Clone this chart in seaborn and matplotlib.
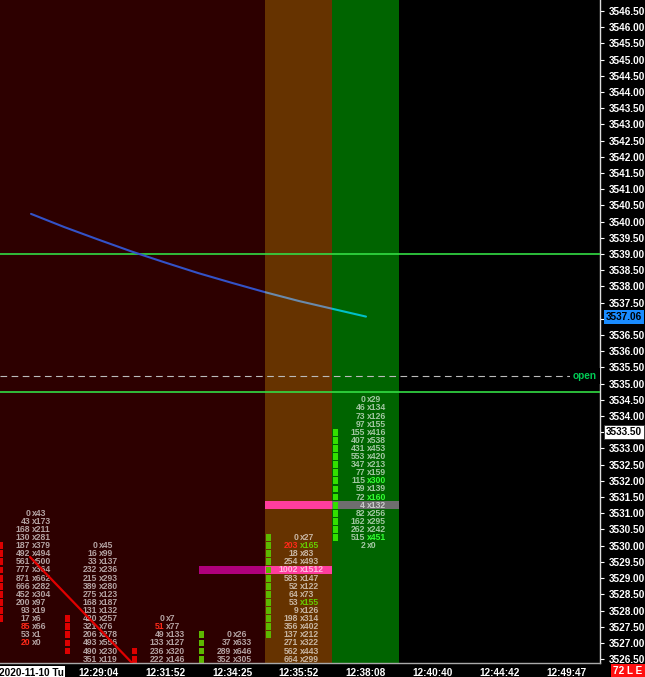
import matplotlib
matplotlib.use("Agg")
import matplotlib.pyplot as plt
import matplotlib.transforms as mtransforms
import numpy as np
import pandas as pd
import seaborn as sns

# time labels of the footprint bars (one per column)
bar_times = ["2020-11-10 Tu", "12:29:04", "12:31:52", "12:34:25", "12:35:52",
             "12:38:08", "12:40:40", "12:44:42", "12:49:47"]

# footprint cells: top price of each column, then bid / ask per 0.25 row downwards
col_top = [3531.00, 3530.00, 3527.75, 3527.25, 3530.25, 3534.50]
col_bid = [
    [0, 43, 168, 130, 187, 492, 561, 777, 871, 666, 452, 200, 93, 17, 85, 53, 20],
    [0, 16, 33, 232, 215, 389, 275, 168, 131, 420, 321, 206, 493, 490, 351],
    [0, 51, 49, 133, 236, 222],
    [0, 37, 289, 352],
    [0, 203, 18, 254, 1002, 583, 52, 64, 53, 9, 198, 356, 137, 271, 562, 664],
    [0, 46, 73, 97, 155, 407, 431, 553, 347, 77, 115, 59, 72, 4, 82, 162, 262, 515, 2],
]
col_ask = [
    [43, 173, 211, 281, 379, 494, 500, 364, 662, 282, 304, 97, 19, 6, 66, 1, 0],
    [45, 99, 137, 236, 293, 280, 123, 187, 132, 257, 76, 278, 556, 230, 119],
    [7, 77, 133, 127, 320, 146],
    [26, 633, 646, 305],
    [27, 165, 83, 493, 1512, 147, 122, 73, 155, 126, 314, 402, 212, 322, 443, 299],
    [29, 134, 126, 155, 416, 538, 453, 420, 213, 159, 300, 139, 160, 132, 256, 295, 242, 451, 0],
]
# highlighted numbers (column, price)
red_bids = [(0, 3527.50), (0, 3527.00), (2, 3527.50), (4, 3530.00)]
green_asks = [(4, 3530.00), (4, 3528.25), (5, 3532.00), (5, 3531.50), (5, 3530.25)]

# candle blocks: column, high row, low row, colour
block_col = [0, 1, 2, 3, 4, 5]
block_hi = [3530.00, 3527.75, 3526.75, 3527.25, 3530.25, 3533.50]
block_lo = [3527.75, 3526.75, 3526.50, 3526.50, 3527.25, 3530.25]
block_color = ["#dd0000", "#dd0000", "#dd0000", "#5cb800", "#5cb800", "#33e000"]

# highlighted rows (point of control etc.)
hl_col = [3, 4, 4, 5]
hl_price = [3529.25, 3529.25, 3531.25, 3531.25]
hl_color = ["#b0007c", "#ff3d9e", "#ff3d9e", "#6e6e6e"]

# session vwap-like curve (read at whole and half columns)
vwap_col = [0, 0.5, 1, 1.5, 2, 2.5, 3, 3.5, 4, 4.5, 5]
vwap_val = [3540.24, 3539.83, 3539.45, 3539.08, 3538.74, 3538.41,
            3538.11, 3537.82, 3537.55, 3537.31, 3537.07]

# red trend line
trend_x = [-0.015, 1.5]
trend_p = [3529.65, 3526.40]

# horizontal levels
green_levels = [3539.00, 3534.75]
open_level = 3535.25

bg_edges = [-0.5, 3.5, 4.5, 5.5]
bg_colors = ["#2d0000", "#663300", "#006400"]

sns.set_theme(style="dark")
plt.rcParams["font.family"] = ["Liberation Sans", "DejaVu Sans"]
plt.rcParams["font.weight"] = "bold"

fig = plt.figure(figsize=(6.45, 6.77), dpi=100, facecolor="black")
ax = fig.add_axes([0, 14 / 677, 600 / 645, 663 / 677])
ax.set_facecolor("black")
ax.grid(False)

spans = []
for x0, x1, c in zip(bg_edges[:-1], bg_edges[1:], bg_colors):
    spans.append(ax.axvspan(x0, x1, color=c, lw=0, zorder=0))

# highlight bars
ax.bar(hl_col, 0.245, bottom=np.array(hl_price) - 0.1225, width=1.0,
       color=hl_color, lw=0, zorder=1)

# candle blocks
for c, hi, lo, colr in zip(block_col, block_hi, block_lo, block_color):
    rows = np.arange(lo, hi + 0.01, 0.25)
    ax.bar(np.full(len(rows), c - 0.5 + 0.038), 0.21, bottom=rows - 0.105, width=0.075,
           color=colr, lw=0, zorder=2)

# footprint numbers
cells = []
for c, top in enumerate(col_top):
    for i, (b, a) in enumerate(zip(col_bid[c], col_ask[c])):
        cells.append({"col": c, "price": top - 0.25 * i, "bid": b, "ask": a})
df = pd.DataFrame(cells)
for r in df.itertuples():
    key = (r.col, round(r.price, 2))
    bcol = "#ff2a1a" if key in red_bids else "white"
    balpha = 1.0 if key in red_bids else 0.64
    if key in green_asks:
        acol, aalpha = ("#33ff33" if r.col == 5 else "#66cc00"), 1.0
    else:
        acol, aalpha = "white", 0.64
    ax.text(r.col - 0.012, r.price, str(r.bid), ha="right", va="center",
            fontsize=6.2, color=bcol, alpha=balpha, zorder=3, clip_on=True)
    ax.text(r.col + 0.012, r.price, f"x{r.ask}", ha="left", va="center",
            fontsize=6.2, color=acol, alpha=aalpha, zorder=3, clip_on=True)

# level lines
for lv in green_levels:
    ax.axhline(lv, color="#33dd44", lw=1.4, alpha=0.85, zorder=4)
ax.axhline(open_level, color="#bbbbbb", lw=0.8, ls=(0, (6, 4)), zorder=4)

# vwap curve, coloured by background zone
vw = pd.DataFrame({"col": vwap_col, "vwap": vwap_val})
for span, c in zip(spans, ["#3352c8", "#6a8aac", "#00c0c8"]):
    sns.lineplot(data=vw, x="col", y="vwap", color=c, lw=1.5, sort=False,
                 estimator=None, ax=ax, zorder=5)
    ax.lines[-1].set_clip_path(span)

ax.plot(trend_x, trend_p, color="#e00000", lw=1.6, zorder=6)

ax.set_xlim(-0.463, 8.493)
ax.set_ylim(3526.38, 3546.84)

# axes / ticks
yt = np.arange(3526.5, 3546.51, 0.5)
ylabels = ["" if round(t, 2) in (3537.00, 3533.50) else f"{t:.2f}" for t in yt]
ax.yaxis.tick_right()
ax.set_yticks(yt)
ax.set_yticklabels(ylabels)
ax.tick_params(axis="y", colors="white", labelsize=7.2, length=3, pad=3, width=0.8)
ax.set_xticks(range(len(bar_times)))
ax.set_xticklabels(bar_times)
ax.tick_params(axis="x", colors="white", labelsize=7.2, length=3, pad=2,
               direction="inout", width=0.8)
xl0 = ax.get_xticklabels()[0]
xl0.set_color("black")
xl0.set_bbox(dict(fc="white", ec="none", pad=1))
ax.set_xlabel("")
ax.set_ylabel("")
for s in ["top", "left"]:
    ax.spines[s].set_visible(False)
ax.spines["right"].set_color("#dddddd")
ax.spines["bottom"].set_color("#aaaaaa")
ax.spines["right"].set_linewidth(1)
ax.spines["bottom"].set_linewidth(1)

clipbox = mtransforms.TransformedBbox(mtransforms.Bbox([[0.9, 14 / 677], [1, 1]]), fig.transFigure)
for lbl in ax.get_yticklabels():
    lbl.set_clip_box(clipbox)
    lbl.set_clip_on(True)

trans = mtransforms.blended_transform_factory(fig.transFigure, ax.transData)
ax.text(606 / 645, 3537.06, "3537.06", transform=trans, ha="left", va="center",
        fontsize=7.2, color="black", clip_on=False, zorder=10,
        bbox=dict(boxstyle="square,pad=0.2", fc="#1a8cff", ec="none"))
ax.text(606 / 645, 3533.50, "3533.50", transform=trans, ha="left", va="center",
        fontsize=7.2, color="black", clip_on=False, zorder=10,
        bbox=dict(boxstyle="square,pad=0.2", fc="white", ec="#333333", lw=0.6))
otrans = mtransforms.blended_transform_factory(ax.transAxes, ax.transData)
ax.text(0.995, open_level, "open", transform=otrans, ha="right", va="center",
        fontsize=7.2, color="#00cc55", zorder=10,
        bbox=dict(boxstyle="square,pad=0.3", fc="black", ec="none"))
fig.text(628 / 645, 5.5 / 677, "72 L E", ha="center", va="center", fontsize=7.2,
         color="white", bbox=dict(boxstyle="square,pad=0.25", fc="#ff1010", ec="none"))

fig.savefig("out.png", dpi=100, facecolor="black")
